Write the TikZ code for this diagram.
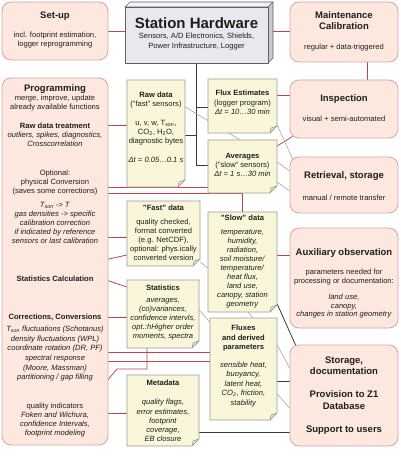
\documentclass[tikz,border=0pt]{standalone}
\usepackage{fontspec}
\setmainfont{Liberation Sans}
\pgfdeclarelayer{bg}
\pgfsetlayers{bg,main}
\definecolor{pinkfill}{HTML}{FCE8DE}
\definecolor{pinkdraw}{HTML}{DCA4A4}
\definecolor{notefill}{HTML}{FAF6DA}
\definecolor{notefold}{HTML}{E4E0C4}
\definecolor{notedraw}{HTML}{9A9A9A}
\definecolor{redl}{HTML}{C8404C}
\definecolor{darkl}{HTML}{3A3A3A}
\definecolor{grayl}{HTML}{A8A8A8}
\definecolor{txt}{HTML}{1E1E1E}
\definecolor{hwfront}{HTML}{E8E8EE}
\definecolor{hwtop}{HTML}{F4F4F8}
\definecolor{hwside}{HTML}{C8C8D2}
\definecolor{hwdraw}{HTML}{606066}
\tikzset{
  pinkbox/.style={draw=pinkdraw, fill=pinkfill, rounded corners=9pt, line width=0.8pt, inner sep=0},
  notestyle/.style={draw=notedraw, fill=notefill, line width=0.6pt, line join=round},
  foldstyle/.style={draw=notedraw, fill=notefold, line width=0.5pt, line join=round},
  body/.style={font=\fontsize{7.6}{9}\selectfont, align=center, inner sep=0, text=txt},
  ttl/.style={font=\fontsize{9.5}{10.5}\selectfont\bfseries, align=center, inner sep=0, text=txt},
  redline/.style={draw=redl, line width=0.8pt},
  darkline/.style={draw=darkl, line width=0.8pt},
  grayline/.style={draw=grayl, line width=0.6pt},
}
\newcommand\notebox[5]{%
  \path[notestyle] (#2,#3) -- (#4,#3) -- (#4,#5-7) -- (#4-7,#5) -- (#2,#5) -- cycle;
  \path[foldstyle] (#4,#5-7) -- (#4-6,#5-5) -- (#4-7,#5) -- cycle;
  \node[inner sep=0, minimum width={(#4-#2)*1pt}, minimum height={(#5-#3)*1pt}] (#1) at ({(#2+#4)/2},{(#3+#5)/2}) {};
}
\begin{document}
\begin{tikzpicture}[x=1pt,y=-1pt]
\useasboundingbox (0,0) rectangle (400,457);

% ---------- left column ----------
\node[pinkbox, minimum width=106pt, minimum height=58pt] (setup) at (55,31) {};
\node[ttl, anchor=north] (setupt) at (55,11.5) {Set-up};
\node[body, anchor=north] (setupb) at (55,32) {incl. footprint estimation,\\logger reprogramming};

\node[pinkbox, minimum width=106pt, minimum height=367pt] (prog) at (55,261.5) {};
\node[ttl, anchor=north] (p1t) at (55,84.5) {Programming};
\node[body, anchor=north] (p1b) at (55,95) {merge, improve, update\\already available functions};
\node[body, anchor=north, font=\fontsize{7.6}{9}\selectfont\bfseries] (p2t) at (55,122.5) {Raw data treatment};
\node[body, anchor=north] (p2b) at (55,132) {\textit{outliers, spikes, diagnostics,}\\\textit{Crosscorrelation}};
\node[body, anchor=north] (p3) at (55,170) {Optional:\\physical Conversion\\(saves some corrections)};
\node[body, anchor=north] (p4) at (55,202) {\textit{T\textsubscript{son} -> T}\\\textit{gas densities -> specific}\\\textit{calibration correction}\\\textit{if indicated by reference}\\\textit{sensors or last calibration}};
\node[body, anchor=north, font=\fontsize{7.6}{9}\selectfont\bfseries] (p5) at (55,275.5) {Statistics Calculation};
\node[body, anchor=north, font=\fontsize{7.6}{9}\selectfont\bfseries] (p6) at (55,313.5) {Corrections, Conversions};
\node[body, anchor=north, font=\fontsize{7.6}{9.6}\selectfont] (p7) at (55,326) {\textit{T\textsubscript{son} fluctuations (Schotanus)}\\\textit{density fluctuations (WPL)}\\\textit{coordinate rotation (DR, PF)}\\\textit{spectral response}\\\textit{(Moore, Massman)}\\\textit{partitioning / gap filling}};
\node[body, anchor=north] (p8) at (55,403) {quality indicators\\\textit{Foken and Wichura,}\\\textit{confidence Intervals,}\\\textit{footprint modeling}};

% ---------- station hardware ----------
\path[draw=hwdraw, fill=hwtop, line width=0.6pt, line join=round] (125,7) -- (130,2) -- (273,2) -- (268,7) -- cycle;
\path[draw=hwdraw, fill=hwside, line width=0.6pt, line join=round] (268,7) -- (273,2) -- (273,58) -- (268,63) -- cycle;
\node[draw=hwdraw, fill=hwfront, line width=0.6pt, minimum width=143pt, minimum height=56pt, inner sep=0] (hw) at (196.5,35) {};
\coordinate (hwr) at (273,31);
\node[anchor=north, inner sep=0, text=txt, font=\fontsize{15}{17}\selectfont\bfseries] (hwt) at (196.5,17.5) {Station Hardware};
\node[body, anchor=north, font=\fontsize{7.6}{10}\selectfont] (hwb) at (196.5,33) {Sensors, A/D Electronics, Shields,\\Power Infrastructure, Logger};

% ---------- right column ----------
\node[pinkbox, minimum width=108pt, minimum height=60pt] (maint) at (344,32) {};
\node[ttl, anchor=north] (maintt) at (344,11.5) {Maintenance\\Calibration};
\node[body, anchor=north] (maintb) at (344,44) {regular + data-triggered};

\node[pinkbox, minimum width=108pt, minimum height=58pt] (insp) at (344,109) {};
\node[ttl, anchor=north] (inspt) at (344,94.5) {Inspection};
\node[body, anchor=north] (inspb) at (344,115.5) {visual + semi-automated};

\node[pinkbox, minimum width=108pt, minimum height=56pt] (retr) at (344,185) {};
\node[ttl, anchor=north] (retrt) at (344,171.5) {Retrieval, storage};
\node[body, anchor=north] (retrb) at (344,195) {manual / remote transfer};

\node[pinkbox, minimum width=108pt, minimum height=100pt] (aux) at (344,278) {};
\node[ttl, anchor=north] (auxt) at (344,248.5) {Auxiliary observation};
\node[body, anchor=north] (auxb) at (344,269) {parameters needed for\\processing or documentation:};
\node[body, anchor=north, font=\fontsize{7.6}{8.5}\selectfont] (auxc) at (344,294) {\textit{land use,}\\\textit{canopy,}\\\textit{changes in station geometry}};

\node[pinkbox, minimum width=108pt, minimum height=101pt] (stor) at (344,395.5) {};
\node[ttl, anchor=north, font=\fontsize{9.5}{11.5}\selectfont\bfseries] (stor1) at (344,356.5) {Storage,\\documentation};
\node[ttl, anchor=north, font=\fontsize{9.5}{11.5}\selectfont\bfseries] (stor2) at (344,390.5) {Provision to Z1\\Database};
\node[ttl, anchor=north] (stor3) at (344,425.5) {Support to users};

% ---------- notes ----------
\notebox{raw}{127}{80}{185}{187}
\node[body, anchor=north] (rawt) at (156,92) {\textbf{Raw data}\\("fast" sensors)\\[10pt]u, v, w, T\textsubscript{son},\\CO\textsubscript{2}, H\textsubscript{2}O,\\diagnostic bytes\\[10pt]\textit{Δt = 0.05…0.1 s}};

\notebox{flux}{208}{79}{277}{133}
\node[body, anchor=north, font=\fontsize{7.6}{9.5}\selectfont] (fluxt) at (242.5,90) {\textbf{Flux Estimates}\\(logger program)\\\textit{Δt = 10…30 min}};

\notebox{avg}{208}{140}{277}{193}
\node[body, anchor=north] (avgt) at (242.5,153) {\textbf{Averages}\\("slow" sensors)\\\textit{Δt = 1 s…30 min}};

\notebox{fast}{127}{201}{200}{266}
\node[body, anchor=north] (fastt) at (163.5,205) {\textbf{"Fast" data}\\[5pt]quality checked,\\format converted\\(e.g. NetCDF),\\optional: phys.ically\\converted version};

\notebox{slow}{208}{212}{277}{312}
\node[body, anchor=north] (slowt) at (242.5,215) {\textbf{"Slow" data}\\[5pt]\textit{temperature,}\\\textit{humidity,}\\\textit{radiation,}\\\textit{soil moisture/}\\\textit{temperature/}\\\textit{heat flux,}\\\textit{land use,}\\\textit{canopy, station}\\\textit{geometry}};

\notebox{stats}{127}{280}{199}{348}
\node[body, anchor=north] (statst) at (163,285) {\textbf{Statistics}\\[3pt]\textit{averages,}\\\textit{(co)variances,}\\\textit{confidence intervls,}\\\textit{opt.:hHigher order}\\\textit{moments, spectra}};

\notebox{fluxes}{210}{318}{277}{420}
\node[body, anchor=north, font=\fontsize{7.6}{9.5}\selectfont] (fluxest) at (243.5,325) {\textbf{Fluxes}\\\textbf{and derived}\\\textbf{parameters}\\[8pt]\textit{sensible heat,}\\\textit{buoyancy,}\\\textit{latent heat,}\\\textit{CO\textsubscript{2}, friction,}\\\textit{stability}};

\notebox{meta}{127}{375}{199}{446}
\node[body, anchor=north, font=\fontsize{7.6}{9.2}\selectfont] (metat) at (163,380) {\textbf{Metadata}\\[10pt]\textit{quality flags,}\\\textit{error estimates,}\\\textit{footprint}\\\textit{coverage,}\\\textit{EB closure}};

\coordinate (c261) at (100,261);
\coordinate (c395) at (95,395);
\coordinate (c369a) at (117,369);
\coordinate (c369) at (147,369);
\coordinate (storc) at (296,346);
\coordinate (retrc) at (293,160);

% ---------- connectors ----------
\begin{pgfonlayer}{bg}
\fill[white] (0,0) rectangle (400,457);
% red
\draw[redline] (setup.east) -- (hw.west |- setup.east);
\draw[redline] (hwr) -- (maint.west |- hwr);
\draw[redline] (maint.south -| 367,0) -- (insp.north -| 367,0);
\draw[redline] (flux.east |- 0,95) -- (insp.west |- 0,95);
\draw[redline] (avg.east |- 0,146) -- ([xshift=3pt,yshift=2pt]insp.south west);
\draw[redline] ([yshift=-3pt]p2b.south) -- ([yshift=2pt]p3.north);
\draw[redline] ([xshift=4pt]p2t.east) -- (raw.west |- p2t.east);
\draw[redline] (prog.east |- 0,187) -- (avg.west |- 0,187);
\draw[redline] (prog.east |- 0,193) -| (slow.north);
\draw[redline] ([xshift=1pt]p4.east |- 0,237) -- (fast.west |- 0,237);
\draw[redline] (c261) -- (fast.west |- 0,255);
\draw[redline] ([xshift=11pt,yshift=-1pt]p5.east) -- (stats.west |- 0,287);
\draw[redline] ([xshift=3pt]p6.east) -- (stats.west |- p6.east);
\draw[redline] ([xshift=1pt]p7.east |- 0,352) -- (fluxes.west |- 0,352);
\draw[redline] (prog.east |- 0,361) -- (fluxes.west |- 0,361);
\draw[redline] (c395) -- (c369a) -- (c369) -- (stats.south -| c369);
\draw[redline] (prog.east |- 0,413) -- (meta.west |- 0,413);
\draw[redline] (slow.east |- 0,255) -- (aux.west |- 0,255);
% dark
\draw[darkline] (hw.south) -- (hw.south |- 0,165) -- (avg.west |- 0,165);
\draw[darkline] (raw.east |- 0,135) -- (hw.south |- 0,135);
\draw[darkline] (hw.south |- 0,107) -- (flux.west |- 0,107);
\draw[darkline] (slow.east |- 0,304) -- (storc);
\draw[darkline] (fluxes.east |- 0,381) -- (stor.west |- 0,381);
\draw[darkline] (meta.east |- 0,432) -- (stor.west |- 0,432);
% gray
\draw[grayline] (raw.east |- 0,107) -- (avg.north -| 240,0);
\draw[grayline] (flux.east |- 0,125) -- (retrc);
\draw[grayline] (avg.east |- 0,162) -- (retr.west |- 0,171);
\draw[grayline] (avg.east |- 0,182) -- (retr.west |- 0,191);
\draw[grayline] (fast.east |- 0,262) -- (slow.west |- 0,268);
\draw[grayline] (stats.east |- 0,310) -- (fluxes.west |- 0,322);
\draw[grayline] (slow.south -| 248,0) -- (fluxes.north -| 253,0);
\draw[grayline] (fluxes.east |- 0,345) -- (stor.west |- 0,368);
\draw[grayline] (fluxes.east |- 0,394) -- (stor.west |- 0,408);
\end{pgfonlayer}
\end{tikzpicture}
\end{document}
